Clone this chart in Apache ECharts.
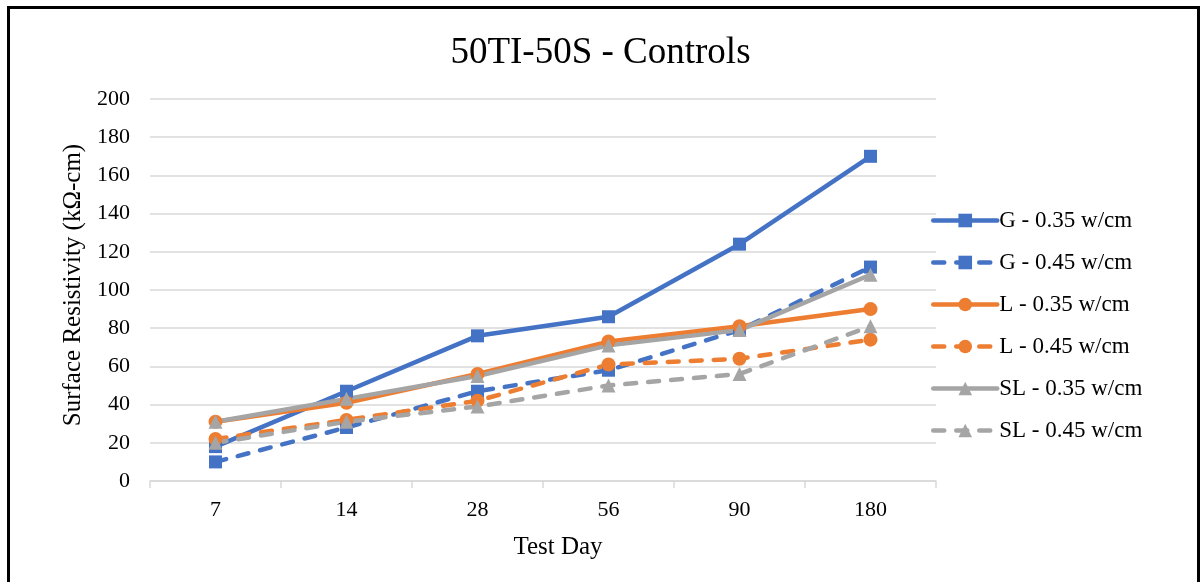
<!DOCTYPE html>
<html>
<head>
<meta charset="utf-8">
<script src="https://cdn.jsdelivr.net/npm/echarts@6/dist/echarts.min.js"></script>
<style>
  html, body { margin: 0; padding: 0; background: #fff; }
  #chart { width: 1201px; height: 582px; }
</style>
</head>
<body>
<div id="chart"></div>
<script>
// --- data ---
var testDays = ['7', '14', '28', '56', '90', '180'];

var g035  = [18, 47, 76, 86, 124, 170];
var g045  = [10, 28, 47, 58, 79, 112];
var l035  = [31, 41, 56, 73, 81, 90];
var l045  = [22, 32, 42, 61, 64, 74];
var sl035 = [31, 43, 55, 71, 79, 108];
var sl045 = [20, 31, 39, 50, 56, 81];

var yTicks = { min: 0, max: 200, interval: 20 };

var BLUE = '#4472C4', ORANGE = '#ED7D31', GRAY = '#A5A5A5';
var FONT = '"Liberation Serif", "Times New Roman", serif';

var myChart = echarts.init(document.getElementById('chart'), null, { renderer: 'canvas' });

// one series builder, solid or dashed
function makeSeries(name, data, color, symbol, size, dashed) {
    return {
        name: name,
        type: 'line',
        data: data,
        symbol: symbol,
        symbolSize: size,
        showSymbol: true,
        itemStyle: { color: color },
        lineStyle: {
            color: color,
            width: 4.5,
            type: dashed ? [11, 12] : 'solid',
            cap: 'round'
        },
        emphasis: { disabled: true },
        animation: false
    };
}

var option = {
    backgroundColor: '#fff',
    title: {
        text: '50TI-50S - Controls',
        left: 'center',
        top: 30,
        textStyle: { fontFamily: FONT, fontSize: 37, fontWeight: 'normal', color: '#000' }
    },
    graphic: [{
        type: 'rect',
        shape: { x: 8.5, y: 7.5, width: 1190, height: 620 },
        style: { fill: 'none', stroke: '#000', lineWidth: 3 },
        silent: true
    }],
    legend: {
        orient: 'vertical',
        left: 926,
        top: 204,
        itemWidth: 64,
        itemHeight: 17,
        itemGap: 19,
        lineStyle: { width: 4.5 },
        textStyle: { fontFamily: FONT, fontSize: 23, color: '#000', padding: [0, 0, 0, -3] },
        data: ['G - 0.35 w/cm', 'G - 0.45 w/cm', 'L - 0.35 w/cm', 'L - 0.45 w/cm', 'SL - 0.35 w/cm', 'SL - 0.45 w/cm']
    },
    grid: { left: 150, right: 265, top: 99, bottom: 101 },
    xAxis: {
        type: 'category',
        data: testDays,
        boundaryGap: true,
        name: 'Test Day',
        nameLocation: 'middle',
        nameGap: 54,
        nameTextStyle: { fontFamily: FONT, fontSize: 25, color: '#000', padding: [0, 0, 0, 30] },
        axisLine: { lineStyle: { color: '#d9d9d9', width: 1.5 } },
        axisTick: { show: true, length: 7, lineStyle: { color: '#d9d9d9', width: 1.5 } },
        axisLabel: { fontFamily: FONT, fontSize: 22, color: '#000', margin: 18 },
        splitLine: { show: false }
    },
    yAxis: {
        type: 'value',
        min: yTicks.min,
        max: yTicks.max,
        interval: yTicks.interval,
        name: 'Surface Resistivity (kΩ-cm)',
        nameLocation: 'middle',
        nameGap: 64,
        nameTextStyle: { fontFamily: FONT, fontSize: 25, color: '#000', padding: [0, 0, 0, 10] },
        axisLine: { show: false },
        axisTick: { show: false },
        axisLabel: { fontFamily: FONT, fontSize: 22, color: '#000', margin: 20 },
        splitLine: { lineStyle: { color: '#d9d9d9', width: 1.5 } }
    },
    series: [
        makeSeries('G - 0.35 w/cm', g035, BLUE, 'rect', 13, false),
        makeSeries('G - 0.45 w/cm', g045, BLUE, 'rect', 13, true),
        makeSeries('L - 0.35 w/cm', l035, ORANGE, 'circle', 14, false),
        makeSeries('L - 0.45 w/cm', l045, ORANGE, 'circle', 14, true),
        makeSeries('SL - 0.35 w/cm', sl035, GRAY, 'triangle', 14, false),
        makeSeries('SL - 0.45 w/cm', sl045, GRAY, 'triangle', 14, true)
    ]
};

myChart.setOption(option);
</script>
</body>
</html>
